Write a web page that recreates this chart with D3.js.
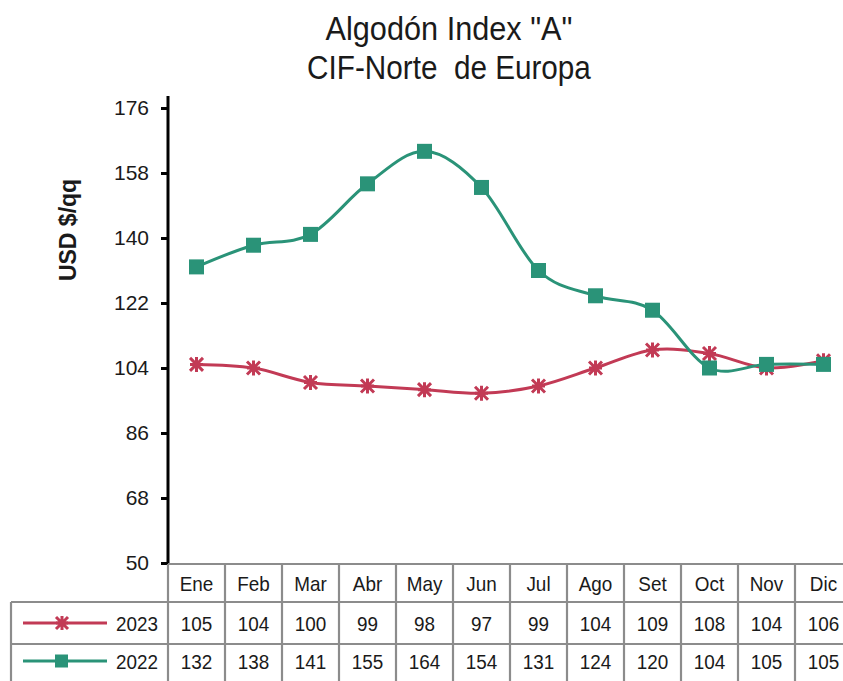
<!DOCTYPE html>
<meta charset="utf-8">
<script src="https://cdn.jsdelivr.net/npm/d3@7"></script>
<style>
  body { margin: 0; background: #fff; }
  .t { font-family: "Liberation Sans", Arial, sans-serif; fill: #1a1a1a; white-space: pre; }
</style>
<body>
<script>
var months = ["Ene","Feb","Mar","Abr","May","Jun","Jul","Ago","Set","Oct","Nov","Dic"];
var vals2023 = [105,104,100,99,98,97,99,104,109,108,104,106];
var vals2022 = [132,138,141,155,164,154,131,124,120,104,105,105];
var yTicks = [50,68,86,104,122,140,158,176];

var red = "#c23a55", green = "#2a9378", grid = "#8c8c8c";

var svg = d3.select("body").append("svg")
    .attr("width", 843)
    .attr("height", 681);

var x = d3.scaleBand().domain(months).range([168, 168 + 12*57]);
var y = d3.scaleLinear().domain([50, 176]).range([563, 108]);

// narrow-looking text: squeeze horizontally
function ntext(g, tx, ty, sx, size, anchor, str) {
  return g.append("text").attr("class","t")
    .attr("transform","translate(" + tx + "," + ty + ") scale(" + sx + ",1)")
    .attr("font-size", size).attr("text-anchor", anchor).text(str);
}

// title
ntext(svg, 449, 40, 0.93, "33px", "middle", 'Algodón Index "A"');
ntext(svg, 449, 79, 0.9, "33px", "middle", "CIF-Norte  de Europa");

// y label
svg.append("text").attr("class","t")
    .attr("transform","translate(76,230) rotate(-90)")
    .attr("text-anchor","middle").attr("font-size","23px")
    .attr("font-weight","bold").text("USD $/qq");

// y axis
var yAxis = svg.append("g").attr("transform","translate(168,0)")
    .call(d3.axisLeft(y).tickValues(yTicks).tickSize(7).tickPadding(12));
yAxis.select(".domain").remove();
yAxis.selectAll(".tick line").attr("stroke","#000").attr("stroke-width",3);
yAxis.selectAll(".tick text").attr("class","t").attr("font-size","21px").attr("fill","#1a1a1a");
svg.append("line").attr("x1",168).attr("x2",168).attr("y1",96).attr("y2",565)
    .attr("stroke","#000").attr("stroke-width",3);

// lines
var line = d3.line()
    .x(function(d,i){ return x(months[i]) + x.bandwidth()/2; })
    .y(function(d){ return y(d); })
    .curve(d3.curveCatmullRom.alpha(0));

svg.append("path").datum(vals2023).attr("d", line)
    .attr("fill","none").attr("stroke",red).attr("stroke-width",3);
svg.append("path").datum(vals2022).attr("d", line)
    .attr("fill","none").attr("stroke",green).attr("stroke-width",3);

function star(g, cx, cy, s, col) {
  g.append("path")
    .attr("d", "M"+(cx-s)+","+(cy-s)+"L"+(cx+s)+","+(cy+s)+"M"+(cx+s)+","+(cy-s)+"L"+(cx-s)+","+(cy+s)
             +"M"+cx+","+(cy-s-1)+"L"+cx+","+(cy+s+1)+"M"+(cx-s)+","+cy+"L"+(cx+s)+","+cy)
    .attr("stroke",col).attr("stroke-width",3).attr("fill","none");
}

var mk23 = svg.append("g");
vals2023.forEach(function(v,i){
  star(mk23, x(months[i]) + x.bandwidth()/2, y(v), 6.5, red);
});
svg.selectAll("rect.m22").data(vals2022).enter().append("rect")
    .attr("class","m22")
    .attr("x", function(d,i){ return x(months[i]) + x.bandwidth()/2 - 7.5; })
    .attr("y", function(d){ return y(d) - 7.5; })
    .attr("width",15).attr("height",15).attr("fill",green);

// data table
var rowTop = [564, 602, 644, 686];
var tbl = svg.append("g");
var hline = function(x1,x2,yy){ tbl.append("line").attr("x1",x1).attr("x2",x2).attr("y1",yy).attr("y2",yy)
    .attr("stroke",grid).attr("stroke-width",2.2); };
hline(168, 860, rowTop[0]);
hline(11, 860, rowTop[1]);
hline(11, 860, rowTop[2]);
tbl.append("line").attr("x1",11).attr("x2",11).attr("y1",rowTop[1]).attr("y2",686)
    .attr("stroke",grid).attr("stroke-width",2.2);
months.forEach(function(m){
  tbl.append("line").attr("x1",x(m)).attr("x2",x(m)).attr("y1",rowTop[0]).attr("y2",686)
    .attr("stroke",grid).attr("stroke-width",2.2);
});

months.forEach(function(m){
  ntext(svg, x(m) + x.bandwidth()/2, 591, 0.9, "21px", "middle", m);
});

var series = [
  {name:"2023", vals: vals2023, col: red, y0: rowTop[1], y1: rowTop[2]},
  {name:"2022", vals: vals2022, col: green, y0: rowTop[2], y1: rowTop[3]-8}
];
series.forEach(function(s){
  var cy = (s.y0 + s.y1)/2;
  s.vals.forEach(function(v,i){
    ntext(svg, x(months[i]) + x.bandwidth()/2, cy + 8, 0.9, "21px", "middle", v);
  });
  ntext(svg, 158, cy + 8, 0.9, "21px", "end", s.name);
  svg.append("line").attr("x1",23).attr("x2",107).attr("y1",cy).attr("y2",cy)
    .attr("stroke",s.col).attr("stroke-width",3);
  if (s.name === "2023") star(svg, 62, cy, 6, s.col);
  else svg.append("rect").attr("x",55).attr("y",cy-6.5).attr("width",13).attr("height",13).attr("fill",s.col);
});
</script>
</body>
